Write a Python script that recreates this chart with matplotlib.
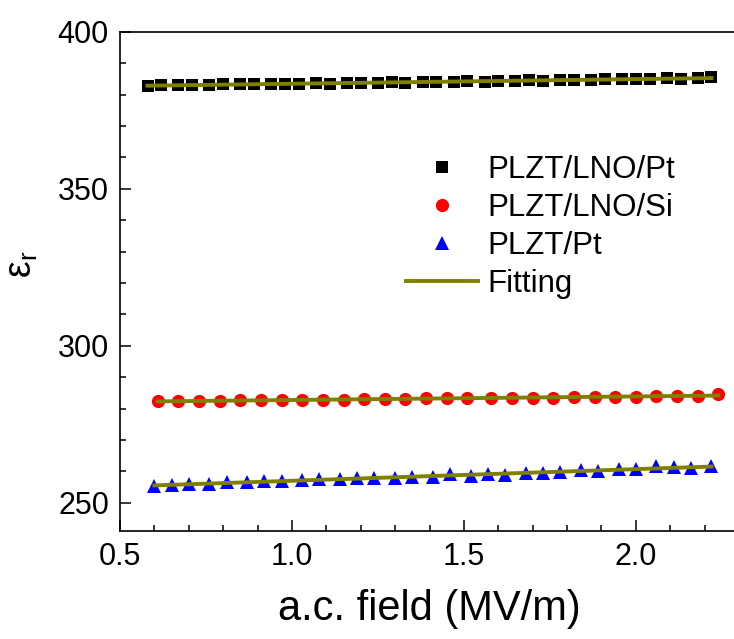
import numpy as np
import matplotlib
matplotlib.use('Agg')
import matplotlib.pyplot as plt
from matplotlib.ticker import MultipleLocator

plt.rcParams['font.family'] = ['Liberation Sans', 'DejaVu Sans']
plt.rcParams['mathtext.fontset'] = 'custom'
plt.rcParams['mathtext.rm'] = 'Liberation Sans'
plt.rcParams['mathtext.it'] = 'Liberation Sans'
plt.rcParams['mathtext.default'] = 'regular'

# PLZT/LNO/Pt
pt_lno_x = [0.58, 0.62, 0.67, 0.71, 0.76, 0.80, 0.85, 0.89, 0.94, 0.98,
            1.02, 1.07, 1.11, 1.16, 1.20, 1.25, 1.29, 1.33, 1.38, 1.42,
            1.47, 1.51, 1.56, 1.60, 1.65, 1.69, 1.73, 1.78, 1.82, 1.87,
            1.91, 1.96, 2.00, 2.04, 2.09, 2.13, 2.18, 2.22]
pt_lno_y = [382.7, 383.0, 382.9, 383.1, 383.0, 383.3, 383.2, 383.3, 383.4, 383.3,
            383.5, 383.6, 383.5, 383.7, 383.6, 383.8, 383.9, 383.8, 384.0, 384.0,
            384.1, 384.2, 384.1, 384.3, 384.3, 384.5, 384.4, 384.6, 384.7, 384.6,
            384.8, 384.9, 384.8, 385.0, 385.1, 385.0, 385.2, 385.5]

# PLZT/LNO/Si
si_lno_x = [0.61, 0.67, 0.73, 0.79, 0.85, 0.91, 0.97, 1.03, 1.09, 1.15,
            1.21, 1.27, 1.33, 1.39, 1.45, 1.51, 1.58, 1.64, 1.70, 1.76,
            1.82, 1.88, 1.94, 2.00, 2.06, 2.12, 2.18, 2.24]
si_lno_y = [282.4, 282.4, 282.5, 282.5, 282.6, 282.6, 282.7, 282.7, 282.8, 282.8,
            282.9, 282.9, 283.1, 283.2, 283.2, 283.3, 283.3, 283.4, 283.5, 283.5,
            283.6, 283.7, 283.7, 283.8, 283.9, 284.0, 284.1, 284.5]

# PLZT/Pt
pt_x = [0.60, 0.65, 0.70, 0.76, 0.81, 0.87, 0.92, 0.97, 1.03, 1.08,
        1.14, 1.19, 1.24, 1.30, 1.35, 1.41, 1.46, 1.52, 1.57, 1.62,
        1.68, 1.73, 1.78, 1.84, 1.89, 1.95, 2.00, 2.06, 2.11, 2.16, 2.22]
pt_y = [255.4, 255.5, 256.0, 256.1, 256.5, 256.6, 256.9, 256.9, 257.2, 257.5,
        257.4, 258.0, 257.9, 257.8, 258.3, 258.1, 259.2, 258.5, 259.2, 258.8,
        259.4, 259.4, 259.8, 260.3, 260.0, 260.6, 260.6, 261.7, 261.3, 261.1, 261.6]

series = [
    (pt_lno_x, pt_lno_y, 's', 'black', 8.5, 'PLZT/LNO/Pt'),
    (si_lno_x, si_lno_y, 'o', 'red', 9.5, 'PLZT/LNO/Si'),
    (pt_x, pt_y, '^', 'blue', 10, 'PLZT/Pt'),
]
fit_color = '#808000'

fig = plt.figure(figsize=(7.34, 6.39), dpi=100)
ax = fig.add_axes([120 / 734, 108 / 639, 619 / 734, 499.3 / 639])

handles = []
for x, y, m, c, ms, lab in series:
    h, = ax.plot(x, y, linestyle='none', marker=m, color=c, markersize=ms,
                 markeredgewidth=0, label=lab, zorder=2)
    handles.append(h)
    k, b = np.polyfit(x, y, 1)
    xs = np.array([x[0], x[-1]])
    fl, = ax.plot(xs, k * xs + b, color=fit_color, lw=2.8, zorder=3, label='Fitting')
handles.append(fl)

ax.set_xlim(0.5, 2.3)
ax.set_ylim(241, 400)
ax.xaxis.set_major_locator(MultipleLocator(0.5))
ax.xaxis.set_minor_locator(MultipleLocator(0.1))
ax.yaxis.set_major_locator(MultipleLocator(50))
ax.yaxis.set_minor_locator(MultipleLocator(10))
ax.xaxis.set_major_formatter(plt.FuncFormatter(lambda v, p: f'{v:.1f}'))
ax.tick_params(which='both', direction='in', top=False, right=False,
               width=1.1, labelsize=22)
ax.tick_params(which='major', length=8, pad=8)
ax.tick_params(which='minor', length=4)
for s in ax.spines.values():
    s.set_linewidth(1.2)

ax.set_xlabel('a.c. field (MV/m)', fontsize=30, labelpad=12)
ax.set_ylabel('$ε_r$', fontsize=27)
ax.yaxis.set_label_coords(-0.13, 0.535)

ax.legend(handles=handles, loc='center left', bbox_to_anchor=(406 / 734, 1 - 227 / 639),
          bbox_transform=fig.transFigure, frameon=False, fontsize=22.5,
          handlelength=2.3, handletextpad=0.3, labelspacing=0.25,
          borderpad=0, borderaxespad=0)

fig.savefig('out.png', dpi=100)
